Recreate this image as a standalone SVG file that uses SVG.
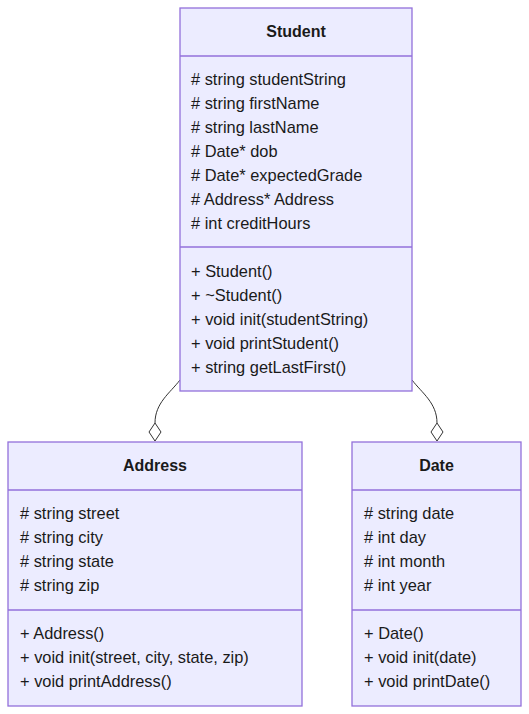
<svg xmlns="http://www.w3.org/2000/svg" width="529" height="714" viewBox="0 0 529 714">
<style>
.box{fill:#ECECFF;stroke:#9370DB;stroke-width:1.3}
.sep{stroke:#9370DB;stroke-width:1.3}
text{font-family:"Liberation Sans",Arial,sans-serif;font-size:16.4px;fill:#1a1a1a}
.title{font-weight:bold;text-anchor:middle;font-size:16px}
.edge{fill:none;stroke:#333;stroke-width:1}
.dia{fill:#fff;stroke:#333;stroke-width:1}
</style>
<rect width="529" height="714" fill="#fff"/>
<g id="connectors">
<path class="edge" d="M180,380 C170,393 155,403 155,423"/>
<polygon class="dia" points="155,423 161,432 155,441 149,432"/>
<path class="edge" d="M412,380 C422,393 437,403 437,423"/>
<polygon class="dia" points="437,423 443,432 437,441 431,432"/>
</g>
<g id="Student">
<rect class="box" x="180" y="8" width="232" height="383"/>
<line class="sep" x1="180" y1="56" x2="412" y2="56"/>
<line class="sep" x1="180" y1="247" x2="412" y2="247"/>
<text class="title" x="296" y="37">Student</text>
<text x="191" y="85"># string studentString</text>
<text x="191" y="109"># string firstName</text>
<text x="191" y="133"># string lastName</text>
<text x="191" y="157"># Date* dob</text>
<text x="191" y="181"># Date* expectedGrade</text>
<text x="191" y="205"># Address* Address</text>
<text x="191" y="229"># int creditHours</text>
<text x="191" y="277">+ Student()</text>
<text x="191" y="301">+ ~Student()</text>
<text x="191" y="325">+ void init(studentString)</text>
<text x="191" y="349">+ void printStudent()</text>
<text x="191" y="373">+ string getLastFirst()</text>
</g>
<g id="Address">
<rect class="box" x="8" y="442" width="294" height="264"/>
<line class="sep" x1="8" y1="490" x2="302" y2="490"/>
<line class="sep" x1="8" y1="610" x2="302" y2="610"/>
<text class="title" x="155" y="471">Address</text>
<text x="20" y="519"># string street</text>
<text x="20" y="543"># string city</text>
<text x="20" y="567"># string state</text>
<text x="20" y="591"># string zip</text>
<text x="20" y="639">+ Address()</text>
<text x="20" y="663">+ void init(street, city, state, zip)</text>
<text x="20" y="687">+ void printAddress()</text>
</g>
<g id="Date">
<rect class="box" x="352" y="442" width="169" height="264"/>
<line class="sep" x1="352" y1="490" x2="521" y2="490"/>
<line class="sep" x1="352" y1="610" x2="521" y2="610"/>
<text class="title" x="436.5" y="471">Date</text>
<text x="364" y="519"># string date</text>
<text x="364" y="543"># int day</text>
<text x="364" y="567"># int month</text>
<text x="364" y="591"># int year</text>
<text x="364" y="639">+ Date()</text>
<text x="364" y="663">+ void init(date)</text>
<text x="364" y="687">+ void printDate()</text>
</g>
</svg>
